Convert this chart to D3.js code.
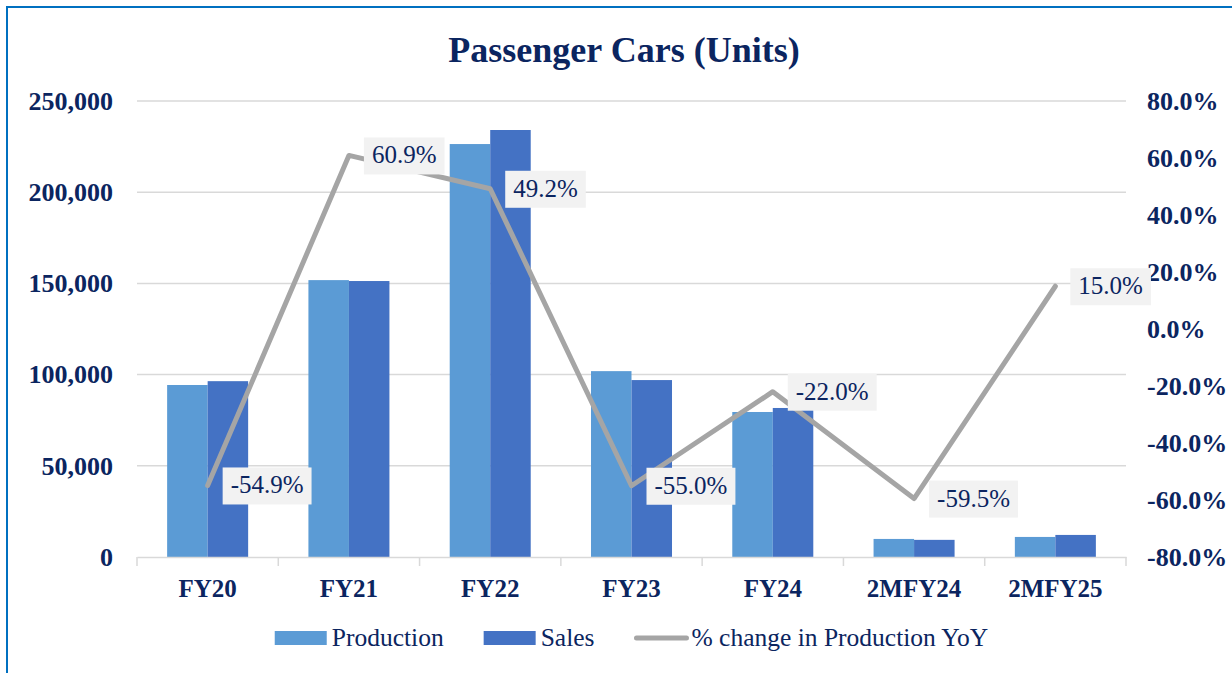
<!DOCTYPE html>
<html><head><meta charset="utf-8">
<script src="https://cdn.jsdelivr.net/npm/d3@7"></script>
<style>body{margin:0;background:#fff;} svg{display:block;}</style>
</head><body>
<svg id="chart" width="1232" height="673"></svg>
<script>
const categories = ["FY20","FY21","FY22","FY23","FY24","2MFY24","2MFY25"];
const production = [94300, 151800, 226400, 101900, 79500, 9900, 11000];
const sales = [96400, 151300, 234100, 97000, 81700, 9400, 12100];
const pctChange = [-54.9, 60.9, 49.2, -55.0, -22.0, -59.5, 15.0];
const leftTicks = [0, 50000, 100000, 150000, 200000, 250000];
const rightTicks = [-80, -60, -40, -20, 0, 20, 40, 60, 80];
const seriesNames = ["Production", "Sales", "% change in Production YoY"];

const navy = "#0b2560";
const colProd = "#5b9bd5", colSales = "#4472c4", colLine = "#a5a5a5";
const FONT = "'Liberation Serif', serif";

const svg = d3.select("#chart");
svg.append("rect").attr("x",7).attr("y",7).attr("width",1228).attr("height",680)
  .attr("fill","#fff").attr("stroke","#0070c0").attr("stroke-width",2);

const L = 137, R = 1126, T = 101, B = 557;
const x0 = d3.scaleBand().domain(categories).range([L, R]).paddingInner(0).paddingOuter(0);
const x1 = d3.scaleBand().domain(["p","s"]).range([0, x0.bandwidth()]).paddingInner(0).paddingOuter(0.744);
const yL = d3.scaleLinear().domain([0, 250000]).range([B, T]);
const yR = d3.scaleLinear().domain([-80, 80]).range([B, T]);

// title
svg.append("text").attr("x", 624).attr("y", 62).attr("text-anchor","middle")
  .attr("font-family", FONT).attr("font-weight","bold").attr("font-size", 36)
  .attr("fill", navy).text("Passenger Cars (Units)");

// gridlines
svg.append("g").selectAll("line").data(leftTicks.filter(d=>d>0)).join("line")
  .attr("x1", L).attr("x2", R).attr("y1", d=>yL(d)).attr("y2", d=>yL(d))
  .attr("stroke","#d9d9d9").attr("stroke-width",1.5);

// left axis
const gL = svg.append("g").attr("transform", `translate(${L},0)`)
  .call(d3.axisLeft(yL).tickValues(leftTicks).tickSize(0).tickPadding(24).tickFormat(d3.format(",")));
gL.select(".domain").remove();
gL.selectAll("text").attr("font-family", FONT).attr("font-weight","bold").attr("font-size",26).attr("fill",navy);

// right axis
const gR = svg.append("g").attr("transform", `translate(${R},0)`)
  .call(d3.axisRight(yR).tickValues(rightTicks).tickSize(0).tickPadding(21).tickFormat(d => d.toFixed(1) + "%"));
gR.select(".domain").remove();
gR.selectAll("text").attr("font-family", FONT).attr("font-weight","bold").attr("font-size",26).attr("fill",navy);

// bars
const groups = svg.append("g").selectAll("g").data(categories).join("g")
  .attr("transform", d => `translate(${x0(d)},0)`);
groups.append("rect").attr("x", x1("p")).attr("width", x1.bandwidth())
  .attr("y", (d,i)=>yL(production[i])).attr("height", (d,i)=>B - yL(production[i])).attr("fill", colProd);
groups.append("rect").attr("x", x1("s")).attr("width", x1.bandwidth())
  .attr("y", (d,i)=>yL(sales[i])).attr("height", (d,i)=>B - yL(sales[i])).attr("fill", colSales);

// x axis
const gX = svg.append("g").attr("transform", `translate(0,${B})`)
  .call(d3.axisBottom(x0).tickSize(0).tickPadding(22));
gX.select(".domain").attr("stroke","#d9d9d9").attr("stroke-width",1.5);
gX.selectAll("text").attr("font-family", FONT).attr("font-weight","bold").attr("font-size",25).attr("fill",navy);
svg.append("g").selectAll("line").data(categories.concat(["_end"])).join("line")
  .attr("x1", d => d==="_end" ? R : x0(d)).attr("x2", d => d==="_end" ? R : x0(d))
  .attr("y1", B).attr("y2", B+9).attr("stroke","#d9d9d9").attr("stroke-width",1.5);

// line
const cx = (d) => x0(d) + x0.bandwidth()/2;
const line = d3.line().x((d,i)=>cx(categories[i])).y(d=>yR(d));
svg.append("path").datum(pctChange).attr("d", line).attr("fill","none")
  .attr("stroke", colLine).attr("stroke-width", 5).attr("stroke-linejoin","round").attr("stroke-linecap","round");

// data labels
const lbl = svg.append("g").selectAll("g").data(pctChange).join("g")
  .attr("transform", (d,i)=>`translate(${cx(categories[i]) + 15},${yR(d)})`);
lbl.each(function(d){
  const g = d3.select(this);
  const r = g.append("rect").attr("fill","#f2f2f2");
  const t = g.append("text").attr("x", 8).attr("y", 8).attr("font-family", FONT)
    .attr("font-size", 25).attr("fill", navy).text(d.toFixed(1) + "%");
  const w = t.node().getComputedTextLength();
  r.attr("x",0).attr("y",-18).attr("width", w + 16).attr("height", 37);
});

// legend
const leg = svg.append("g").attr("transform","translate(0,638)");
let xpos = 0;
const legG = leg.append("g");
seriesNames.forEach((name, i) => {
  const g = legG.append("g").attr("transform", `translate(${xpos},0)`);
  if (i < 2) {
    g.append("rect").attr("x",0).attr("y",-7).attr("width",52).attr("height",14).attr("fill", i===0?colProd:colSales);
  } else {
    g.append("line").attr("x1",2).attr("x2",52).attr("y1",0).attr("y2",0)
      .attr("stroke", colLine).attr("stroke-width",5).attr("stroke-linecap","round");
  }
  const t = g.append("text").attr("x", 57).attr("y", 8).attr("font-family", FONT)
    .attr("font-size", 25.5).attr("fill", navy).text(name);
  xpos += 57 + t.node().getComputedTextLength() + 40;
});
const totalW = xpos - 40;
legG.attr("transform", `translate(${631.5 - totalW/2},0)`);
</script>
</body></html>
